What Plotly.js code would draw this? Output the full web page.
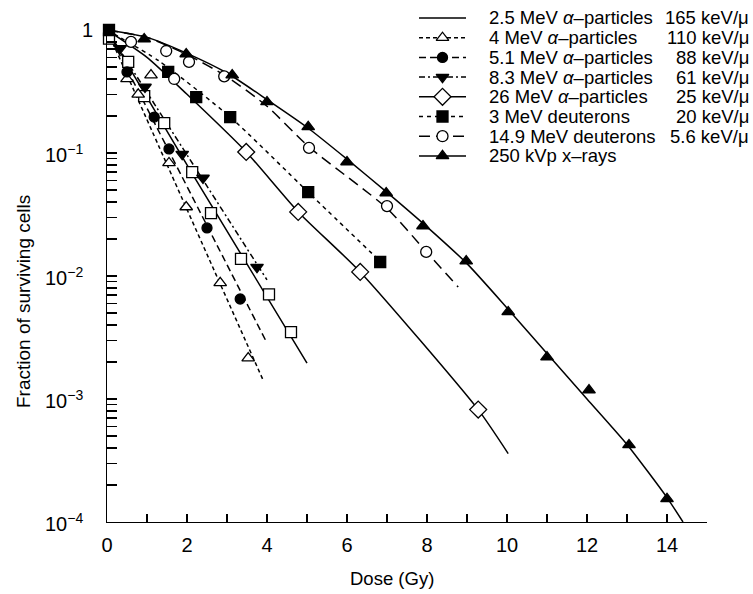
<!DOCTYPE html>
<html><head><meta charset="utf-8">
<script src="https://cdn.plot.ly/plotly-3.0.1.min.js"></script>
<style>html,body{margin:0;padding:0;background:#fff}</style>
</head><body><div id="chart" style="width:753px;height:594px"></div>
<script>
// ---- legend text ----
const seriesNames = [
  "2.5 MeV <i>α</i>–particles",
  "4 MeV <i>α</i>–particles",
  "5.1 MeV <i>α</i>–particles",
  "8.3 MeV <i>α</i>–particles",
  "26 MeV <i>α</i>–particles",
  "3 MeV deuterons",
  "14.9 MeV deuterons",
  "250 kVp x–rays"
];
const letLabels = ["165 keV/μ","110 keV/μ","88 keV/μ","61 keV/μ","25 keV/μ","20 keV/μ","5.6 keV/μ",""];
const xTitle = "Dose (Gy)";
const yTitle = "Fraction of surviving cells";

// ---- measured points (dose Gy, surviving fraction) ----
const alpha25Dose = [0.05,0.53,0.93,1.43,2.13,2.6,3.35,4.05,4.6];
const alpha25Surv = [0.85,0.55,0.29,0.175,0.07,0.0325,0.0138,0.0071,0.0035];
const alpha4Dose = [0.5,0.78,1.1,1.55,1.98,2.83,3.53];
const alpha4Surv = [0.40,0.30,0.43,0.083,0.0364,0.0088,0.00215];
const alpha51Dose = [0.5,1.18,1.55,2.5,3.33];
const alpha51Surv = [0.456,0.196,0.108,0.0246,0.0065];
const alpha83Dose = [0.33,0.95,1.88,2.4,3.75];
const alpha83Surv = [0.71,0.344,0.098,0.0626,0.0118];
const alpha26Dose = [3.48,4.78,6.33,9.28];
const alpha26Surv = [0.102,0.0332,0.0108,0.00082];
const deut3Dose = [0.05,1.53,2.23,3.08,5.03,6.83];
const deut3Surv = [1.0,0.456,0.285,0.196,0.048,0.013];
const deut149Dose = [0.6,1.48,1.68,2.05,2.93,5.05,7.0,7.98];
const deut149Surv = [0.80,0.675,0.40,0.55,0.42,0.11,0.037,0.0157];
const xrayDose = [0.5,0.93,1.98,3.13,4.0,5.03,6.0,6.98,7.9,8.98,10.03,11.0,12.05,13.05,14.0];
const xraySurv = [1.06,0.845,0.638,0.43,0.26,0.163,0.0845,0.0473,0.0255,0.0132,0.0051,0.00219,0.00118,0.000423,0.000154];

// ---- fitted curves ----
const alpha25FitDose = [0,2.13,5.0];
const alpha25FitSurv = [1,0.068,0.00196];
const alpha4FitDose = [0,1.55,3.9];
const alpha4FitSurv = [1,0.074,0.00143];
const alpha51FitDose = [0,2.5,4.0];
const alpha51FitSurv = [1,0.0257,0.00285];
const alpha83FitDose = [0,2.0,4.0];
const alpha83FitSurv = [1,0.0965,0.0093];
const alpha26FitDose = [0,1,2,3.48,4.78,6.33,9.28,10.03];
const alpha26FitSurv = [1,0.6,0.3,0.102,0.0332,0.0108,0.00082,0.00036];
const deut3FitDose = [0,1.3,3.08,5.03,6.9];
const deut3FitSurv = [1,0.56,0.196,0.048,0.0125];
const deut149FitDose = [0,1,2,3,4,5.05,7,8,8.78];
const deut149FitSurv = [1,0.871,0.631,0.417,0.24,0.112,0.0355,0.0155,0.00813];
const xrayFitDose = [0,1,2,3,4,5,6,7,8,9,10,11,12,13,14,14.4];
const xrayFitSurv = [1,0.871,0.646,0.447,0.272,0.162,0.0891,0.0479,0.0251,0.0126,0.0055,0.00234,0.001,0.000427,0.000158,0.0001];

const xTickVals = [0,2,4,6,8,10,12,14];
const yTickVals = [1,0.1,0.01,0.001,0.0001];
const yTickText = ["1","10<sup>−1</sup>","10<sup>−2</sup>","10<sup>−3</sup>","10<sup>−4</sup>"];

// ---- styles ----
const pts = [[alpha25Dose,alpha25Surv],[alpha4Dose,alpha4Surv],[alpha51Dose,alpha51Surv],[alpha83Dose,alpha83Surv],
             [alpha26Dose,alpha26Surv],[deut3Dose,deut3Surv],[deut149Dose,deut149Surv],[xrayDose,xraySurv]];
const fits = [[alpha25FitDose,alpha25FitSurv],[alpha4FitDose,alpha4FitSurv],[alpha51FitDose,alpha51FitSurv],[alpha83FitDose,alpha83FitSurv],
              [alpha26FitDose,alpha26FitSurv],[deut3FitDose,deut3FitSurv],[deut149FitDose,deut149FitSurv],[xrayFitDose,xrayFitSurv]];
const styles = [
  {symbol:'square', fill:'white', size:11, dash:'solid'},
  {symbol:'triangle-up', fill:'white', size:11, dash:'4px,3px'},
  {symbol:'circle', fill:'black', size:10, dash:'7px,4px'},
  {symbol:'triangle-down', fill:'black', size:11, dash:'6px,3px,2px,3px'},
  {symbol:'diamond', fill:'white', size:13, dash:'solid'},
  {symbol:'square', fill:'black', size:11, dash:'4px,4px'},
  {symbol:'circle', fill:'white', size:11, dash:'11px,6px'},
  {symbol:'triangle-up', fill:'black', size:11, dash:'solid'}
];
const LINEW = 1.5;

const FONT = 'Liberation Sans, Arial, Helvetica, sans-serif';
const W = 753, H = 594;
const M = {l:107, r:46, t:30, b:72};
const X_RANGE = [0,15], Y_RANGE = [-4,0];
const plotW = W - M.l - M.r, plotH = H - M.t - M.b;
const px2paperX = p => (p - M.l) / plotW;
const px2paperY = p => (H - M.b - p) / plotH;
// pixel -> data position on the main axes (legend sample glyphs only)
const px2dose = p => X_RANGE[0] + (X_RANGE[1]-X_RANGE[0]) * px2paperX(p);
const px2surv = p => Math.pow(10, Y_RANGE[0] + (Y_RANGE[1]-Y_RANGE[0]) * px2paperY(p));

const traces = [];
fits.forEach((f,i) => {
  traces.push({type:'scatter', x:f[0], y:f[1], mode:'lines', showlegend:false, hoverinfo:'skip',
    line:{color:'black', width:LINEW, dash:styles[i].dash, shape:'spline', smoothing:0.6}});
});
pts.forEach((p,i) => {
  const s = styles[i];
  traces.push({type:'scatter', x:p[0], y:p[1], mode:'markers', showlegend:false, cliponaxis:false,
    marker:{symbol:s.symbol, size:s.size, color:s.fill, line:{color:'black', width:1.3}}});
});

// ---- custom legend ----
const legRow0 = 18, legStep = 19.7;
const legLineX0 = 419, legLineX1 = 466, legMarkX = 442.5, legTextX = 487, legLetX = 751;
const LEGFONT = 18.5;
const shapes = [], annotations = [];
seriesNames.forEach((name,i) => {
  const yPx = legRow0 + i*legStep;
  const s = styles[i];
  shapes.push({type:'line', xref:'paper', yref:'paper', layer:'below',
    x0:px2paperX(legLineX0), x1:px2paperX(legLineX1), y0:px2paperY(yPx), y1:px2paperY(yPx),
    line:{color:'black', width:LINEW, dash:s.dash}});
  traces.push({type:'scatter', x:[px2dose(legMarkX)], y:[px2surv(yPx)], mode:'markers', showlegend:false,
    cliponaxis:false, hoverinfo:'skip',
    marker:{symbol:s.symbol, size:s.size, color:s.fill, line:{color:'black', width:1.3}}});
  annotations.push({xref:'paper', yref:'paper', x:px2paperX(legTextX), y:px2paperY(yPx),
    xanchor:'left', yanchor:'middle', showarrow:false, text:name, font:{family:FONT, size:LEGFONT, color:'black'}});
  if (letLabels[i]) annotations.push({xref:'paper', yref:'paper', x:px2paperX(legLetX), y:px2paperY(yPx),
    xanchor:'right', yanchor:'middle', showarrow:false, text:letLabels[i], font:{family:FONT, size:LEGFONT, color:'black'}});
});

// y tick labels next to the axis (positions taken from the log scale)
yTickVals.forEach((v,i) => {
  const frac = (Math.log10(v) - Y_RANGE[0]) / (Y_RANGE[1]-Y_RANGE[0]);
  annotations.push({xref:'paper', yref:'paper', x:px2paperX(i===0 ? 87 : 85), y:frac,
    xanchor:(i===0 ? 'center' : 'right'), yanchor:'middle',
    showarrow:false, text:yTickText[i], font:{family:FONT, size:20, color:'black'}});
});

// axis titles (placed as in the reference, which is off-centre)
annotations.push({xref:'paper', yref:'paper', x:px2paperX(392), y:px2paperY(578), xanchor:'center', yanchor:'middle',
  showarrow:false, text:xTitle, font:{family:FONT, size:18.5, color:'black'}});
annotations.push({xref:'paper', yref:'paper', x:px2paperX(23), y:px2paperY(301), xanchor:'center', yanchor:'middle',
  showarrow:false, textangle:-90, text:yTitle, font:{family:FONT, size:19, color:'black'}});

const layout = {
  width:W, height:H, margin:M, showlegend:false,
  paper_bgcolor:'white', plot_bgcolor:'rgba(0,0,0,0)',
  font:{family:FONT, size:20, color:'black'},
  xaxis:{range:X_RANGE, showgrid:false, zeroline:false, showline:true, linecolor:'black', linewidth:1.3,
    ticks:'inside', ticklen:8, tickwidth:1.2, tickcolor:'black', tickvals:xTickVals, ticktext:xTickVals.map(String),
    minor:{ticks:'inside', ticklen:8, tickwidth:1.2, tickcolor:'black', dtick:1, tick0:0},
    ticklabelstandoff:5, tickfont:{size:20}, automargin:false},
  yaxis:{type:'log', range:Y_RANGE, tickvals:yTickVals, showticklabels:false, showgrid:false, zeroline:false,
    showline:true, linecolor:'black', linewidth:1.3,
    ticks:'inside', ticklen:10, tickwidth:1.2, tickcolor:'black',
    minor:{ticks:'inside', ticklen:10, tickwidth:1.2, tickcolor:'black', dtick:'D1'},
    automargin:false},
  shapes:shapes, annotations:annotations
};
Plotly.newPlot('chart', traces, layout, {staticPlot:true, displayModeBar:false});
</script></body></html>
